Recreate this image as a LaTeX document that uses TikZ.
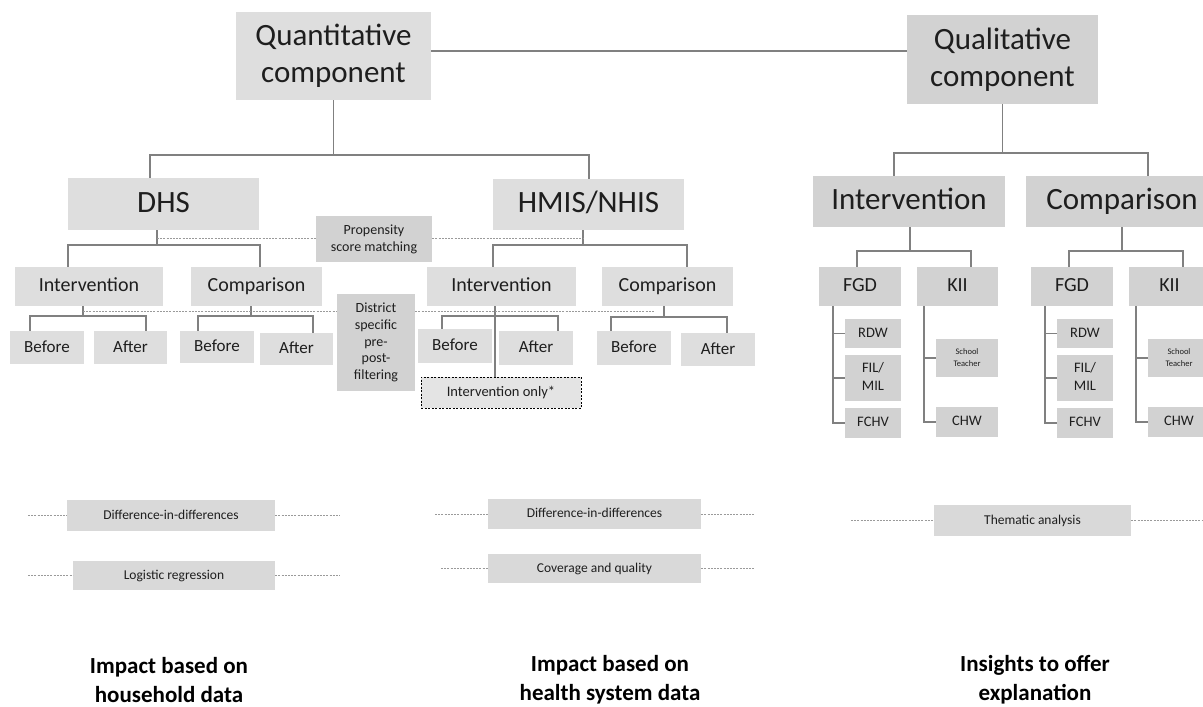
\documentclass[tikz,border=0pt]{standalone}
\usepackage{fontspec}
\setmainfont{Carlito}
\usepackage{tikz}

\definecolor{quantgray}{HTML}{DEDEDE}
\definecolor{qualgray}{HTML}{D2D2D2}
\definecolor{methgray}{HTML}{D9D9D9}
\definecolor{onlygray}{HTML}{E4E4E4}
\definecolor{linegray}{HTML}{808080}
\definecolor{dashgray}{HTML}{9A9A9A}
\definecolor{inkgray}{HTML}{1E1E1E}

% parent, stem x, bar y, left x, right x, left child, right child
\newcommand{\forkdown}[7]{%
  \coordinate (#1-s) at (#2,#3);
  \coordinate (#1-l) at (#4,#3);
  \coordinate (#1-r) at (#5,#3);
  \draw[link] (#1-s |- #1.south) -- (#1-s);
  \draw[link] (#1-l |- #6.north) -- (#1-l) -- (#1-r) -- (#1-r |- #7.north);
}

\tikzset{
  box/.style={inner sep=0pt, align=center, text=inkgray,
    execute at begin node={\vphantom{Tdy}}, execute at end node={\vphantom{Tdy}}},
  qnbox/.style={box, fill=quantgray},
  qlbox/.style={box, fill=qualgray},
  mthbox/.style={box, fill=methgray},
  wh/.style 2 args={minimum width=#1, minimum height=#2},
  link/.style={draw=linegray, line width=1.2pt},
  dotlink/.style={draw=dashgray, line width=0.9pt, dash pattern=on 2pt off 1.2pt},
  fbig/.style={font=\fontsize{31}{37}\selectfont},
  fmid/.style={font=\fontsize{20}{24}\selectfont},
  fba/.style={font=\fontsize{17}{20}\selectfont},
  fsmall/.style={font=\fontsize{14}{17}\selectfont},
  fsub/.style={font=\fontsize{14.5}{18}\selectfont},
  ftiny/.style={font=\fontsize{8.5}{12}\selectfont},
  fmeth/.style={font=\fontsize{13.5}{16}\selectfont},
  outcome/.style={font=\bfseries\fontsize{23}{29}\selectfont, align=center, text=black, inner sep=0pt}
}

\begin{document}
\begin{tikzpicture}[x=1pt, y=-1pt]
  \useasboundingbox (0,0) rectangle (1203,707);
  \fill[white] (0,0) rectangle (1203,707);

  % Top level: the two components
  \node[qnbox, wh={195pt}{88pt}, fbig] (Quant) at (333.5,56) {Quantitative\\component};
  \node[qlbox, wh={191pt}{89pt}, fbig] (Qual) at (1002.5,59.5) {Qualitative\\component};
  \coordinate (top) at (0,51);
  \draw[link] (Quant.east |- top) -- (Qual.west |- top);

  % Quantitative data sources
  \node[qnbox, wh={191pt}{52pt}, fbig] (DHS) at (163.5,204) {DHS};
  \node[qnbox, wh={191pt}{51pt}, fbig] (HMIS) at (588.5,204.5) {HMIS/NHIS};
  \forkdown{Quant}{333.5}{155}{150}{589}{DHS}{HMIS}

  % Qualitative arms
  \node[qlbox, wh={192pt}{51pt}, fbig] (QInt) at (909,201.5) {Intervention};
  \node[qlbox, wh={192pt}{51pt}, fbig] (QCom) at (1122,201.5) {Comparison};
  \forkdown{Qual}{1002.5}{153}{894}{1148}{QInt}{QCom}

  % Matching between the two sources
  \node[qlbox, wh={116pt}{46pt}, fsmall] (PSM) at (374,239) {Propensity\\score matching};

  % Intervention / comparison per source
  \node[qnbox, wh={148pt}{39pt}, fmid] (DInt) at (89,286.5) {Intervention};
  \node[qnbox, wh={131pt}{39pt}, fmid] (DCom) at (256.5,286.5) {Comparison};
  \node[qnbox, wh={149pt}{39pt}, fmid] (HInt) at (501.5,286.5) {Intervention};
  \node[qnbox, wh={131pt}{39pt}, fmid] (HCom) at (667.5,286.5) {Comparison};
  \forkdown{DHS}{157}{245}{68}{260}{DInt}{DCom}
  \forkdown{HMIS}{583}{245}{493}{687}{HInt}{HCom}

  % Before / after
  \node[qnbox, wh={74pt}{33pt}, fba] (B1) at (47,347.5) {Before};
  \node[qnbox, wh={73pt}{33pt}, fba] (A1) at (130.5,347.5) {After};
  \node[qnbox, wh={74pt}{32pt}, fba] (B2) at (217,347) {Before};
  \node[qnbox, wh={73pt}{32pt}, fba] (A2) at (296.5,349) {After};
  \node[qnbox, wh={74pt}{34pt}, fba] (B3) at (455,346) {Before};
  \node[qnbox, wh={74pt}{34pt}, fba] (A3) at (536,348) {After};
  \node[qnbox, wh={74pt}{34pt}, fba] (B4) at (634,348) {Before};
  \node[qnbox, wh={74pt}{33pt}, fba] (A4) at (718,349.5) {After};
  \forkdown{DInt}{83}{316}{30}{146}{B1}{A1}
  \forkdown{DCom}{251}{316}{198}{313}{B2}{A2}
  \forkdown{HInt}{495}{316}{442}{558}{B3}{A3}
  \forkdown{HCom}{664}{317}{611}{727}{B4}{A4}

  % Filtering and intervention-only arm
  \node[qlbox, wh={78pt}{97pt}, font=\fontsize{14}{16.7}\selectfont] (DSP) at (376,342.5) {District\\specific\\pre-\\post-\\filtering};
  \node[box, fill=onlygray, draw=black, line width=0.9pt, dash pattern=on 2pt off 1.5pt,
        wh={160pt}{31pt}, font=\fontsize{14.5}{17}\selectfont] (IntOnly) at (501,392.5) {Intervention only*};
  \draw[link] (HInt-s) -- (HInt-s |- IntOnly.north);

  % Dashed links across the sources
  \coordinate (psm) at (0,238);
  \draw[dotlink] (DHS-s |- psm) -- (PSM.west |- psm);
  \draw[dotlink] (PSM.east |- psm) -- (HMIS-s |- psm);
  \coordinate (dsp) at (0,311);
  \coordinate (dspend) at (655,311);
  \draw[dotlink] (DInt-s |- dsp) -- (DSP.west |- dsp);
  \draw[dotlink] (DSP.east |- dsp) -- (dspend);

  % Qualitative sub-trees (intervention, comparison)
  \foreach \p/\s in {i/0, c/212} {
    \node[qlbox, wh={82pt}{39pt}, fmid] (FGD\p) at (860+\s,286.5) {FGD};
    \node[qlbox, wh={81pt}{39pt}, fmid] (KII\p) at (957.5+\s,286.5) {KII};
    \node[qlbox, wh={56pt}{29pt}, fsub] (RDW\p) at (873+\s,333.5) {RDW};
    \node[qlbox, wh={56pt}{46pt}, fsub] (FIL\p) at (873+\s,378) {FIL/\\MIL};
    \node[qlbox, wh={56pt}{30pt}, fsub] (FCHV\p) at (873+\s,423) {FCHV};
    \node[qlbox, wh={62pt}{38pt}, ftiny] (ST\p) at (967+\s,358) {School\\Teacher};
    \node[qlbox, wh={62pt}{30pt}, fsub] (CHW\p) at (967+\s,422) {CHW};
    \coordinate (fs\p) at (833+\s,0);
    \coordinate (ks\p) at (924+\s,0);
    \draw[link] (fs\p |- FGD\p.south) |- (FCHV\p.west);
    \draw[link] (fs\p |- RDW\p) -- (RDW\p.west);
    \draw[link] (fs\p |- FIL\p) -- (FIL\p.west);
    \draw[link] (ks\p |- KII\p.south) |- (CHW\p.west);
    \draw[link] (ks\p |- ST\p) -- (ST\p.west);
  }
  \forkdown{QInt}{910}{251}{857}{971}{FGDi}{KIIi}
  \forkdown{QCom}{1122}{251}{1069}{1183}{FGDc}{KIIc}

  % Analysis methods
  \node[mthbox, wh={208pt}{31pt}, fmeth] (DD1) at (171,515.5) {Difference-in-differences};
  \node[mthbox, wh={202pt}{29pt}, fmeth] (LR) at (174,575.5) {Logistic regression};
  \node[mthbox, wh={213pt}{30pt}, fmeth] (DD2) at (594.5,514) {Difference-in-differences};
  \node[mthbox, wh={213pt}{29pt}, fmeth] (CQ) at (594.5,568.5) {Coverage and quality};
  \node[mthbox, wh={197pt}{31pt}, fmeth] (TA) at (1032.5,520.5) {Thematic analysis};
  \foreach \n/\a/\b in {DD1/28/340, LR/28/340, DD2/435/754, CQ/441/754, TA/851/1203} {
    \coordinate (lft) at (\a,0);
    \coordinate (rgt) at (\b,0);
    \draw[dotlink] (lft |- \n.west) -- (\n.west);
    \draw[dotlink] (\n.east) -- (rgt |- \n.east);
  }

  % Outcomes
  \node[outcome] (O1) at (169,680) {Impact based on\\household data};
  \node[outcome] (O2) at (610,680) {Impact based on\\health system data};
  \node[outcome] (O3) at (1035,680) {Insights to offer\\explanation};
\end{tikzpicture}
\end{document}
